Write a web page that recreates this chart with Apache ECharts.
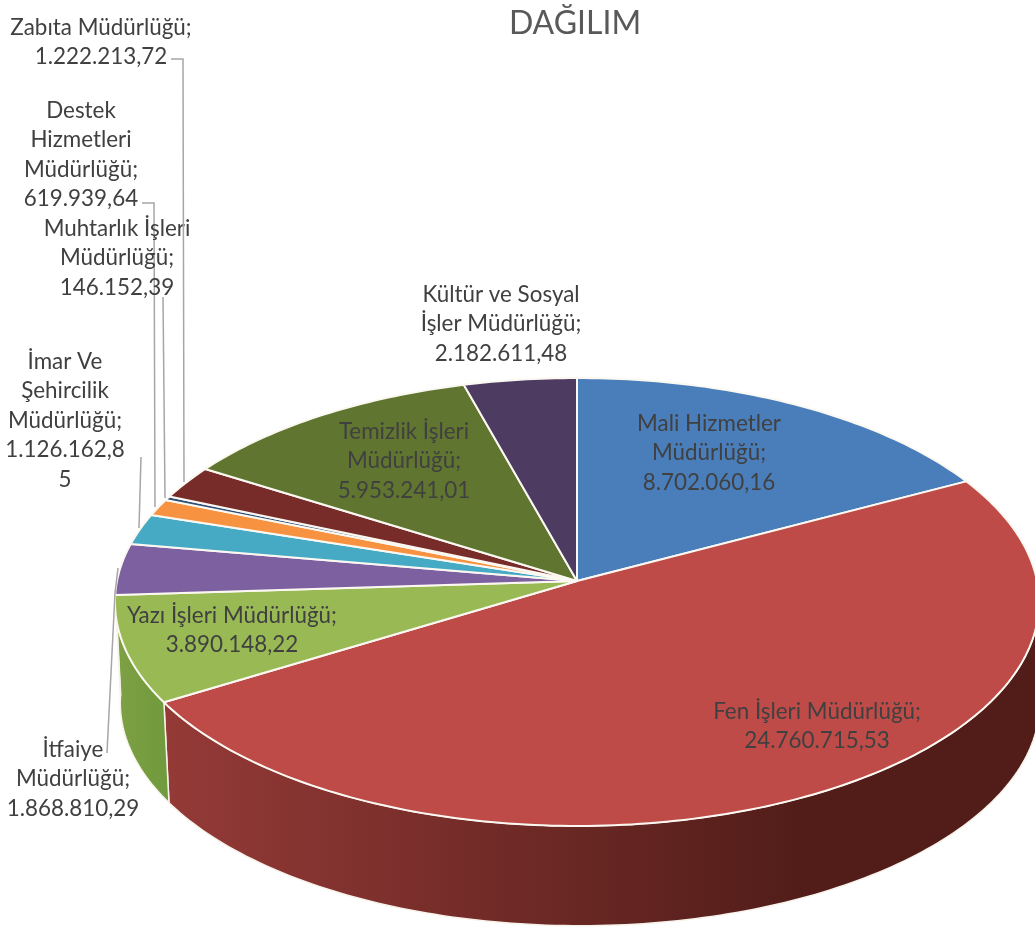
<!DOCTYPE html>
<html>
<head>
<meta charset="utf-8">
<title>DAĞILIM</title>
<script src="https://cdn.jsdelivr.net/npm/echarts@6/dist/echarts.min.js"></script>
<style>
	html, body { margin: 0; padding: 0; background: #fff; }
	#chart { width: 1035px; height: 932px; }
</style>
</head>
<body>
<div id="chart"></div>
<script>
var categories = ['Mali Hizmetler Müdürlüğü', 'Fen İşleri Müdürlüğü', 'Yazı İşleri Müdürlüğü', 'İtfaiye Müdürlüğü',
	'İmar Ve Şehircilik Müdürlüğü', 'Destek Hizmetleri Müdürlüğü', 'Muhtarlık İşleri Müdürlüğü', 'Zabıta Müdürlüğü',
	'Temizlik İşleri Müdürlüğü', 'Kültür ve Sosyal İşler Müdürlüğü'];
var values = [8702060.16, 24760715.53, 3890148.22, 1868810.29, 1126162.85, 619939.64, 146152.39, 1222213.72, 5953241.01, 2182611.48];
var labelTexts = [
	'Mali Hizmetler\nMüdürlüğü;\n8.702.060,16',
	'Fen İşleri Müdürlüğü;\n24.760.715,53',
	'Yazı İşleri Müdürlüğü;\n3.890.148,22',
	'İtfaiye\nMüdürlüğü;\n1.868.810,29',
	'İmar Ve\nŞehircilik\nMüdürlüğü;\n1.126.162,8\n5',
	'Destek\nHizmetleri\nMüdürlüğü;\n619.939,64',
	'Muhtarlık İşleri\nMüdürlüğü;\n146.152,39',
	'Zabıta Müdürlüğü;\n1.222.213,72',
	'Temizlik İşleri\nMüdürlüğü;\n5.953.241,01',
	'Kültür ve Sosyal\nİşler Müdürlüğü;\n2.182.611,48'
];

var colors = ['#4a7ebb', '#be4b48', '#98b954', '#7d60a0', '#46aac5', '#f69240', '#2c4d75', '#772c2a', '#5f7530', '#4d3b62'];
// only the red and green walls are visible, the others stay behind the top
var wallLeft = ['#3a6496', '#943a37', '#7da043', '#64507f', '#38889d', '#c47433', '#233d5d', '#5f2321', '#4c5d26', '#3d2f4e'];
var wallRight = ['#2a486c', '#521d19', '#6f9a3d', '#483a5c', '#285f6e', '#8e5325', '#192c43', '#451918', '#37431b', '#2c2238'];

// centre x and first line y of each label
var labelPos = [[709, 409], [817, 697], [232, 601], [73, 735], [65, 347], [81, 96], [117, 214], [101, 13], [404, 417], [501, 280]];
var leaders = [
	null, null, null,
	[[107, 753], [115, 593], [118, 568]],
	[[141, 457], [139, 528]],
	[[142, 203], [154, 203], [155, 507]],
	[[163, 297], [165, 498]],
	[[171, 59], [183, 59], [184, 482]],
	null, null
];

// top disc projection, apex of the pie sits at (cx, cy)
var cx = 577, cy = 581, rx = 460, ry = 222, persp = 0.09375;
var wallDx = 3, wallDy = 101, wallScale = 0.995;
var total = values.reduce(function(a, b) { return a + b; }, 0);

function sliceAngles(i) {
	var before = 0;
	for (var j = 0; j < i; j++) {
		before += values[j];
	}
	return [before / total * 360, (before + values[i]) / total * 360];
}

function project(deg, low) {
	var t = deg * Math.PI / 180;
	var u = Math.sin(t), v = -Math.cos(t);
	var d = 1 - persp * v;
	var x = rx * u / d, y = ry * v / d;
	if (low) {
		return [cx + wallDx + x * wallScale, cy + wallDy + y * wallScale];
	}
	return [cx + x, cy + y];
}

function arc(from, to, low) {
	var pts = [];
	var n = Math.max(2, Math.ceil(to - from));
	for (var i = 0; i <= n; i++) {
		pts.push(project(from + (to - from) * i / n, low));
	}
	return pts;
}

function renderWall(params, api) {
	var i = params.dataIndex;
	var ang = sliceAngles(i);
	var from = Math.max(ang[0], 90), to = Math.min(ang[1], 267);
	if (from >= to) {
		return null;
	}
	var fill = new echarts.graphic.LinearGradient(i === 2 ? 117 : 165, 0, i === 2 ? 170 : 800, 0, [
		{ offset: 0, color: wallLeft[i] },
		{ offset: 1, color: wallRight[i] }
	], true);
	return {
		type: 'polygon',
		shape: { points: arc(from, to, false).concat(arc(from, to, true).reverse()) },
		style: { fill: fill, stroke: '#f7f3ea', lineWidth: 1.5 }
	};
}

function renderTop(params, api) {
	var i = params.dataIndex;
	var ang = sliceAngles(i);
	return {
		type: 'polygon',
		shape: { points: [[cx, cy]].concat(arc(ang[0], ang[1], false)) },
		style: { fill: colors[i], stroke: '#fbf8f2', lineWidth: 2, lineJoin: 'round' }
	};
}

function renderLabel(params, api) {
	var i = params.dataIndex;
	var children = [];
	if (leaders[i]) {
		children.push({
			type: 'polyline',
			shape: { points: leaders[i] },
			style: { fill: null, stroke: '#a6a6a6', lineWidth: 1.5 }
		});
	}
	children.push({
		type: 'text',
		style: {
			text: labelTexts[i],
			x: labelPos[i][0],
			y: labelPos[i][1],
			fill: '#404040',
			font: '22.4px Lato',
			align: 'center',
			verticalAlign: 'top',
			lineHeight: 29.4
		}
	});
	return { type: 'group', children: children };
}

var seriesData = values.map(function(v, i) {
	return { name: categories[i], value: [v] };
});

var chart = echarts.init(document.getElementById('chart'));
chart.setOption({
	animation: false,
	backgroundColor: '#fff',
	title: {
		text: 'DAĞILIM',
		left: 570,
		top: 3,
		textAlign: 'center',
		textStyle: { color: '#595959', fontFamily: 'Lato', fontWeight: 'normal', fontSize: 32 }
	},
	tooltip: { show: false },
	series: [
		{ type: 'custom', coordinateSystem: 'none', renderItem: renderWall, data: seriesData, z: 1 },
		{ type: 'custom', coordinateSystem: 'none', renderItem: renderTop, data: seriesData, z: 2 },
		{ type: 'custom', coordinateSystem: 'none', renderItem: renderLabel, data: seriesData, z: 3 }
	]
});
</script>
</body>
</html>
